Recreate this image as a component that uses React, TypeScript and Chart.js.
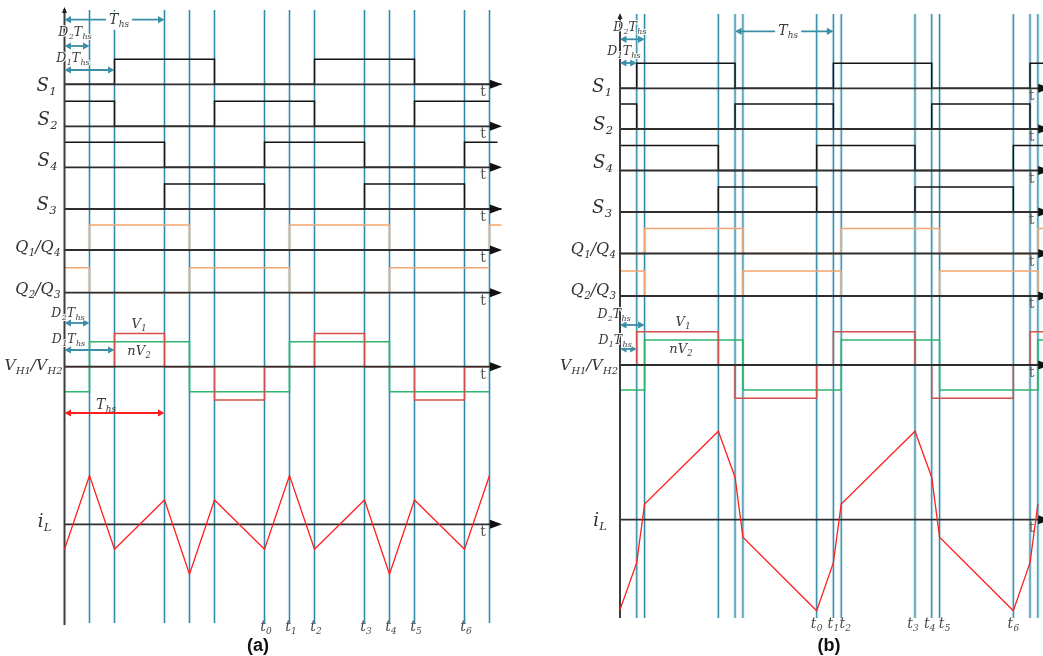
import React, { useEffect, useRef } from "react";
import { Chart, registerables } from "chart.js";

Chart.register(...registerables);

// ---------- time instants, in units of the half switching period T_hs ----------
// (a): D1 = 0.5, D2 = 0.25      (b): D1 = 0.17, D2 = 0.25
const GRID_A = [0.25, 0.5, 1, 1.25, 1.5, 2, 2.25, 2.5, 3, 3.25, 3.5, 4, 4.25];
const GRID_B = [0.17, 0.25, 1, 1.17, 1.25, 2, 2.17, 2.25, 3, 3.17, 3.25, 4, 4.17, 4.25];

const T_MARKS_A = [2, 2.25, 2.5, 3, 3.25, 3.5, 4];
const T_MARKS_B = [2, 2.17, 2.25, 3, 3.17, 3.25, 4];
const T_MARK_NAMES = ["0", "1", "2", "3", "4", "5", "6"];

// ---------- gate signals: edge instants and the level held between them ----------
const S1_EDGES_A = [0, 0.5, 1.5, 2.5, 3.5, 4.37];
const S1_LEVELS_A = [0, 1, 0, 1, 0];
const S2_EDGES_A = [0, 0.5, 1.5, 2.5, 3.5, 4.25];
const S2_LEVELS_A = [1, 0, 1, 0, 1];
const S4_EDGES_A = [0, 1, 2, 3, 4, 4.33];
const S4_LEVELS_A = [1, 0, 1, 0, 1];
const S3_EDGES_A = [0, 1, 2, 3, 4, 4.37];
const S3_LEVELS_A = [0, 1, 0, 1, 0];
const Q14_EDGES_A = [0, 0.25, 1.25, 2.25, 3.25, 4.25, 4.37];
const Q14_LEVELS_A = [0, 1, 0, 1, 0, 1];
const Q23_EDGES_A = [0, 0.25, 1.25, 2.25, 3.25, 4.25];
const Q23_LEVELS_A = [1, 0, 1, 0, 1];

const S1_EDGES_B = [0, 0.17, 1.17, 2.17, 3.17, 4.17, 4.4];
const S1_LEVELS_B = [0, 1, 0, 1, 0, 1];
const S2_EDGES_B = [0, 0.17, 1.17, 2.17, 3.17, 4.17, 4.4];
const S2_LEVELS_B = [1, 0, 1, 0, 1, 0];
const S4_EDGES_B = [0, 1, 2, 3, 4, 4.4];
const S4_LEVELS_B = [1, 0, 1, 0, 1];
const S3_EDGES_B = [0, 1, 2, 3, 4, 4.4];
const S3_LEVELS_B = [0, 1, 0, 1, 0];
const Q14_EDGES_B = [0, 0.25, 1.25, 2.25, 3.25, 4.25, 4.4];
const Q14_LEVELS_B = [0, 1, 0, 1, 0, 1];
const Q23_EDGES_B = [0, 0.25, 1.25, 2.25, 3.25, 4.25, 4.4];
const Q23_LEVELS_B = [1, 0, 1, 0, 1, 0];

// ---------- bridge voltages, per unit of nV2 ----------
const V1 = 1.33;
const NV2 = 1;
const VH1_EDGES_A = [0, 0.5, 1, 1.5, 2, 2.5, 3, 3.5, 4, 4.25];
const VH1_LEVELS_A = [0, V1, 0, -V1, 0, V1, 0, -V1, 0];
const VH2_EDGES_A = [0, 0.25, 1.25, 2.25, 3.25, 4.25];
const VH2_LEVELS_A = [-NV2, NV2, -NV2, NV2, -NV2];

const VH1_EDGES_B = [0, 0.17, 1, 1.17, 2, 2.17, 3, 3.17, 4, 4.17, 4.4];
const VH1_LEVELS_B = [0, V1, 0, -V1, 0, V1, 0, -V1, 0, V1];
const VH2_EDGES_B = [0, 0.25, 1.25, 2.25, 3.25, 4.25, 4.4];
const VH2_LEVELS_B = [-NV2, NV2, -NV2, NV2, -NV2, NV2];

// ---------- inductor current at each switching instant ----------
const IL_T_A = [0, 0.25, 0.5, 1, 1.25, 1.5, 2, 2.25, 2.5, 3, 3.25, 3.5, 4, 4.25];
const IL_A = [-1, 1.95, -1, 0.97, -2, 0.97, -1, 1.95, -1, 0.97, -2, 0.97, -1, 1.95];
const IL_T_B = [0, 0.17, 0.25, 1, 1.17, 1.25, 2, 2.17, 2.25, 3, 3.17, 3.25, 4, 4.17, 4.25];
const IL_B = [-3.6, -1.72, 0.63, 3.54, 1.7, -0.7, -3.64, -1.72, 0.63, 3.54, 1.7, -0.7, -3.64, -1.72, 0.63];

// ---------- layout ----------
const H = 656;
const AMP = 25; // vertical size of one unit on every trace
const TIP_T = 4.375; // tip of the time-axis arrows
const TEAL = "#3a8ea8";
const RED = "#ff1e1e";

type Seg = [string, string];

const ROW_KEYS = ["S1", "S2", "S4", "S3", "Q14", "Q23", "VH", "IL"];
const ROW_LABELS: Record<string, Seg[]> = {
  S1: [["S", "1"]],
  S2: [["S", "2"]],
  S4: [["S", "4"]],
  S3: [["S", "3"]],
  Q14: [["Q", "1"], ["/Q", "4"]],
  Q23: [["Q", "2"], ["/Q", "3"]],
  VH: [["V", "H1"], ["/V", "H2"]],
  IL: [["i", "L"]],
};
const LABEL_GAP: Record<string, number> = { S1: 8, S2: 7, S4: 7, S3: 8, Q14: 4, Q23: 4, VH: 2, IL: 13 };
const LABEL_SIZE: Record<string, number> = { S1: 18, S2: 18, S4: 18, S3: 18, Q14: 16, Q23: 16, VH: 15.5, IL: 18 };

const BASE_A: Record<string, number> = { S1: 84.3, S2: 126.3, S4: 167.3, S3: 209, Q14: 250, Q23: 292.7, VH: 366.7, IL: 524.3 };
const LABEL_Y_A: Record<string, number> = { S1: 86, S2: 120, S4: 161, S3: 205, Q14: 248, Q23: 290, VH: 366, IL: 522 };
const BASE_B: Record<string, number> = { S1: 88.3, S2: 129, S4: 170.5, S3: 212, Q14: 253.5, Q23: 296, VH: 365, IL: 519.7 };
const LABEL_Y_B: Record<string, number> = { S1: 87, S2: 125, S4: 163, S3: 208, Q14: 250, Q23: 291, VH: 366, IL: 521 };

const THS: Seg[] = [["T", "hs"]];
const D1THS: Seg[] = [["D", "1"], ["T", "hs"]];
const D2THS: Seg[] = [["D", "2"], ["T", "hs"]];
const V1_LBL: Seg[] = [["V", "1"]];
const NV2_LBL: Seg[] = [["nV", "2"]];

type Arrow = { t1: number; t2: number; y: number; color: string };
type Note = { segs: Seg[]; t: number; y: number; size: number; bg?: boolean; halo?: boolean; color?: string };

const PANEL_A = {
  width: 521,
  xMin: -0.645,
  xMax: -0.645 + 5.21,
  grid: GRID_A,
  gridTop: 10,
  gridBottom: 623,
  axisTop: 9,
  axisBottom: 625,
  base: BASE_A,
  labelY: LABEL_Y_A,
  s1: [S1_EDGES_A, S1_LEVELS_A],
  s2: [S2_EDGES_A, S2_LEVELS_A],
  s4: [S4_EDGES_A, S4_LEVELS_A],
  s3: [S3_EDGES_A, S3_LEVELS_A],
  q14: [Q14_EDGES_A, Q14_LEVELS_A],
  q23: [Q23_EDGES_A, Q23_LEVELS_A],
  vh1: [VH1_EDGES_A, VH1_LEVELS_A],
  vh2: [VH2_EDGES_A, VH2_LEVELS_A],
  il: [IL_T_A, IL_A],
  tMarks: T_MARKS_A,
  tMarkNudge: [1.5, 1.5, 1.5, 1.5, 1.5, 1.5, 1.5],
  tMarkY: 627,
  caption: "(a)",
  captionT: 1.935,
  arrows: [
    { t1: 0, t2: 1, y: 19.7, color: TEAL },
    { t1: 0, t2: 0.25, y: 46, color: TEAL },
    { t1: 0, t2: 0.5, y: 70, color: TEAL },
    { t1: 0, t2: 0.25, y: 323, color: TEAL },
    { t1: 0, t2: 0.5, y: 350, color: TEAL },
    { t1: 0, t2: 1, y: 413, color: RED },
  ] as Arrow[],
  notes: [
    { segs: THS, t: 0.545, y: 20, size: 14, bg: true },
    { segs: D2THS, t: 0.105, y: 33, size: 12.5, halo: true },
    { segs: D1THS, t: 0.085, y: 59, size: 12.5, halo: true },
    { segs: D2THS, t: 0.035, y: 314, size: 12.5, halo: true },
    { segs: D1THS, t: 0.04, y: 340, size: 12.5, halo: true },
    { segs: V1_LBL, t: 0.745, y: 325, size: 13 },
    { segs: NV2_LBL, t: 0.745, y: 352, size: 13 },
    { segs: THS, t: 0.415, y: 405, size: 14 },
  ] as Note[],
};

const PANEL_B = {
  width: 522,
  xMin: -99 / 98.33,
  xMax: -99 / 98.33 + 522 / 98.33,
  grid: GRID_B,
  gridTop: 14,
  gridBottom: 618,
  axisTop: 15,
  axisBottom: 618,
  base: BASE_B,
  labelY: LABEL_Y_B,
  s1: [S1_EDGES_B, S1_LEVELS_B],
  s2: [S2_EDGES_B, S2_LEVELS_B],
  s4: [S4_EDGES_B, S4_LEVELS_B],
  s3: [S3_EDGES_B, S3_LEVELS_B],
  q14: [Q14_EDGES_B, Q14_LEVELS_B],
  q23: [Q23_EDGES_B, Q23_LEVELS_B],
  vh1: [VH1_EDGES_B, VH1_LEVELS_B],
  vh2: [VH2_EDGES_B, VH2_LEVELS_B],
  il: [IL_T_B, IL_B],
  tMarks: T_MARKS_B,
  tMarkNudge: [0, 0, 4, -2, -2, 5, 0],
  tMarkY: 624,
  caption: "(b)",
  captionT: 2.125,
  arrows: [
    { t1: 0, t2: 0.25, y: 39.3, color: TEAL },
    { t1: 0, t2: 0.17, y: 63, color: TEAL },
    { t1: 1.17, t2: 2.17, y: 31.3, color: TEAL },
    { t1: 0, t2: 0.25, y: 325, color: TEAL },
    { t1: 0, t2: 0.17, y: 349, color: TEAL },
  ] as Arrow[],
  notes: [
    { segs: D2THS, t: 0.1, y: 28, size: 12.5, halo: true },
    { segs: D1THS, t: 0.04, y: 52, size: 12.5, halo: true },
    { segs: THS, t: 1.71, y: 31, size: 14, bg: true },
    { segs: D2THS, t: -0.06, y: 315, size: 12.5, halo: true },
    { segs: D1THS, t: -0.05, y: 341, size: 12.5, halo: true },
    { segs: V1_LBL, t: 0.64, y: 323, size: 13 },
    { segs: NV2_LBL, t: 0.62, y: 350, size: 13 },
  ] as Note[],
};

type PanelCfg = typeof PANEL_A;

// ---------- helpers ----------
function stepPts(edges: number[], levels: number[], base: number) {
  const pts: { x: number; y: number }[] = [];
  for (let i = 0; i < levels.length; i++) {
    const y = base - levels[i] * AMP;
    pts.push({ x: edges[i], y });
    pts.push({ x: edges[i + 1], y });
  }
  return pts;
}

function linePts(ts: number[], vs: number[], base: number) {
  return ts.map((t, i) => ({ x: t, y: base - vs[i] * AMP }));
}

const MATH_FONT = '"DejaVu Serif", serif';

function drawMath(
  ctx: CanvasRenderingContext2D,
  segs: Seg[],
  x: number,
  y: number,
  size: number,
  align: "left" | "center" | "right",
  color: string,
  bg = false,
  halo = false
) {
  const sub = size * 0.64;
  const mainFont = `italic ${size}px ${MATH_FONT}`;
  const subFont = `italic ${sub}px ${MATH_FONT}`;
  let w = 0;
  for (const [m, s] of segs) {
    ctx.font = mainFont;
    w += ctx.measureText(m).width;
    if (s) {
      ctx.font = subFont;
      w += ctx.measureText(s).width + 0.3;
    }
  }
  let cx = align === "left" ? x : align === "center" ? x - w / 2 : x - w;
  if (bg) {
    ctx.fillStyle = "#ffffff";
    ctx.fillRect(cx - 3, y - size * 0.6, w + 6, size * 1.3);
  }
  ctx.fillStyle = color;
  ctx.strokeStyle = "rgba(255,255,255,0.9)";
  ctx.lineWidth = 2.2;
  ctx.lineJoin = "round";
  ctx.textAlign = "left";
  ctx.textBaseline = "middle";
  const put = (txt: string, px: number, py: number) => {
    if (halo) ctx.strokeText(txt, px, py);
    ctx.fillText(txt, px, py);
  };
  for (const [m, s] of segs) {
    ctx.font = mainFont;
    put(m, cx, y);
    cx += ctx.measureText(m).width;
    if (s) {
      ctx.font = subFont;
      put(s, cx + 0.3, y + size * 0.32);
      cx += ctx.measureText(s).width + 0.3;
    }
  }
}

function drawArrow(ctx: CanvasRenderingContext2D, x1: number, x2: number, y: number, color: string) {
  const head = 6.5;
  const half = 3.6;
  ctx.strokeStyle = color;
  ctx.fillStyle = color;
  ctx.lineWidth = 1.8;
  ctx.beginPath();
  ctx.moveTo(x1 + head * 0.6, y);
  ctx.lineTo(x2 - head * 0.6, y);
  ctx.stroke();
  ctx.beginPath();
  ctx.moveTo(x2, y);
  ctx.lineTo(x2 - head, y - half);
  ctx.lineTo(x2 - head, y + half);
  ctx.closePath();
  ctx.fill();
  ctx.beginPath();
  ctx.moveTo(x1, y);
  ctx.lineTo(x1 + head, y - half);
  ctx.lineTo(x1 + head, y + half);
  ctx.closePath();
  ctx.fill();
}

function overlayPlugin(p: PanelCfg) {
  return {
    id: "overlay",
    afterDatasetsDraw(chart: any) {
      const ctx: CanvasRenderingContext2D = chart.ctx;
      const X = (t: number) => chart.scales.x.getPixelForValue(t);
      const Y = (v: number) => chart.scales.y.getPixelForValue(v);
      ctx.save();

      // arrow on top of the vertical axis
      const x0 = X(0);
      ctx.fillStyle = "#222";
      ctx.beginPath();
      ctx.moveTo(x0, Y(p.axisTop) - 2);
      ctx.lineTo(x0 - 2.5, Y(p.axisTop) + 4);
      ctx.lineTo(x0 + 2.5, Y(p.axisTop) + 4);
      ctx.closePath();
      ctx.fill();

      // time-axis arrowheads, "t" marks and trace names
      for (const k of ROW_KEYS) {
        const y = Y(p.base[k]);
        const xt = X(TIP_T);
        ctx.fillStyle = "#111";
        ctx.beginPath();
        ctx.moveTo(xt, y);
        ctx.lineTo(xt - 12, y - 4.5);
        ctx.lineTo(xt - 12, y + 4.5);
        ctx.closePath();
        ctx.fill();

        ctx.font = `14px ${MATH_FONT}`;
        ctx.fillStyle = "#555";
        ctx.textAlign = "center";
        ctx.textBaseline = "middle";
        ctx.fillText("t", X(TIP_T - 0.19), y + 8.5);

        drawMath(ctx, ROW_LABELS[k], x0 - LABEL_GAP[k], Y(p.labelY[k]), LABEL_SIZE[k], "right", "#333333");
      }

      // dimension arrows and their labels
      for (const a of p.arrows) drawArrow(ctx, X(a.t1), X(a.t2), Y(a.y), a.color);
      for (const n of p.notes)
        drawMath(ctx, n.segs, X(n.t), Y(n.y), n.size, "center", n.color || "#3a3a3a", !!n.bg, !!n.halo);

      // instants t0 ... t6
      p.tMarks.forEach((t, i) => {
        drawMath(ctx, [["t", T_MARK_NAMES[i]]], X(t) + p.tMarkNudge[i], Y(p.tMarkY), 14, "center", "#4a4a4a");
      });

      // sub-figure caption
      ctx.font = 'bold 18px "Liberation Sans", Arial, sans-serif';
      ctx.fillStyle = "#111";
      ctx.textAlign = "center";
      ctx.textBaseline = "middle";
      ctx.fillText(p.caption, X(p.captionT), Y(646));
      ctx.restore();
    },
  };
}

function buildDatasets(p: PanelCfg) {
  const line = (data: any[], color: string, width: number, order: number) => ({
    data,
    borderColor: color,
    borderWidth: width,
    order,
    pointRadius: 0,
    pointHoverRadius: 0,
    fill: false,
    tension: 0,
    spanGaps: false,
    borderJoinStyle: "miter" as const,
    borderCapStyle: "butt" as const,
  });

  const grid: any[] = [];
  for (const t of p.grid) {
    grid.push({ x: t, y: p.gridTop }, { x: t, y: p.gridBottom }, { x: t, y: null });
  }
  const bases: any[] = [];
  for (const k of ROW_KEYS) {
    bases.push({ x: 0, y: p.base[k] }, { x: TIP_T - 0.08, y: p.base[k] }, { x: TIP_T - 0.08, y: null });
  }
  const axis = [
    { x: 0, y: p.axisTop },
    { x: 0, y: p.axisBottom },
  ];
  const vh = (e: number[], l: number[]) => stepPts(e, l, p.base.VH);

  return [
    line(grid, "rgba(140,196,214,0.45)", 3.2, 40),
    line(grid, "#2f89a2", 1.1, 39),
    line(stepPts(p.q14[0], p.q14[1], p.base.Q14), "#f3a570", 1.6, 22),
    line(stepPts(p.q23[0], p.q23[1], p.base.Q23), "#f3a570", 1.6, 22),
    line(vh(p.vh2[0], p.vh2[1]), "#2fb56c", 1.6, 21),
    line(vh(p.vh1[0], p.vh1[1]), "#d2504a", 1.5, 20),
    line(stepPts(p.s1[0], p.s1[1], p.base.S1), "#141414", 1.5, 20),
    line(stepPts(p.s2[0], p.s2[1], p.base.S2), "#141414", 1.5, 20),
    line(stepPts(p.s4[0], p.s4[1], p.base.S4), "#141414", 1.5, 20),
    line(stepPts(p.s3[0], p.s3[1], p.base.S3), "#141414", 1.5, 20),
    line(linePts(p.il[0], p.il[1], p.base.IL), "#ff2020", 1.3, 5),
    line(bases, "#2e2e2e", 1.8, 10),
    line(axis, "#3c3c3c", 2, 9),
  ];
}

function Panel({ cfg }: { cfg: PanelCfg }) {
  const ref = useRef<HTMLCanvasElement>(null);
  useEffect(() => {
    if (!ref.current) return;
    const chart = new Chart(ref.current, {
      type: "line",
      data: { datasets: buildDatasets(cfg) as any },
      options: {
        animation: false,
        responsive: false,
        maintainAspectRatio: false,
        events: [],
        layout: { padding: 0 },
        plugins: {
          legend: { display: false },
          tooltip: { enabled: false },
          title: { display: false },
        },
        scales: {
          x: { type: "linear", min: cfg.xMin, max: cfg.xMax, display: false },
          y: { type: "linear", min: 0, max: H, reverse: true, display: false },
        },
      },
      plugins: [overlayPlugin(cfg)],
    });
    return () => chart.destroy();
  }, [cfg]);
  return (
    <canvas
      ref={ref}
      width={cfg.width}
      height={H}
      style={{ display: "block", width: cfg.width, height: H }}
    />
  );
}

export default function App() {
  return (
    <div
      style={{
        position: "fixed",
        left: 0,
        top: 0,
        width: 1043,
        height: H,
        display: "flex",
        background: "#ffffff",
        overflow: "hidden",
      }}
    >
      <Panel cfg={PANEL_A} />
      <Panel cfg={PANEL_B} />
    </div>
  );
}
